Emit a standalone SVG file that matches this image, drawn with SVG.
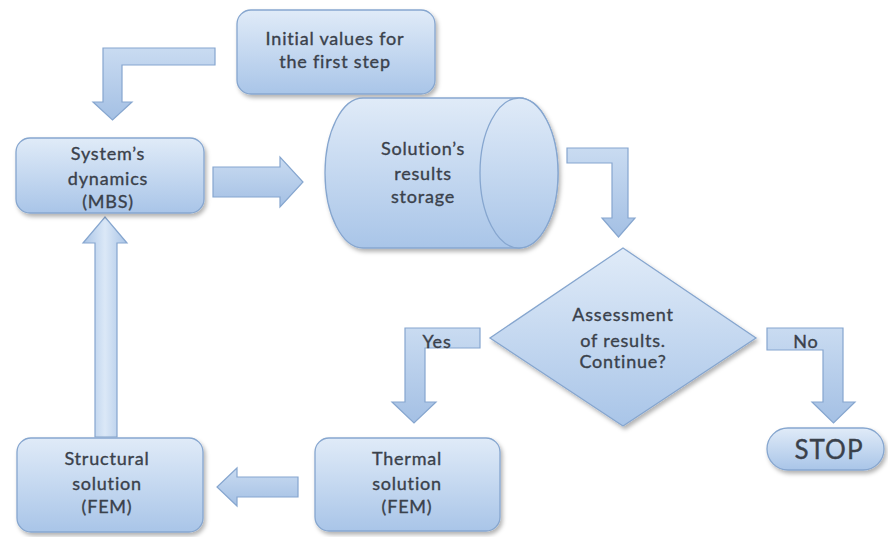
<svg xmlns="http://www.w3.org/2000/svg" width="888" height="537" viewBox="0 0 888 537">
<defs>
<linearGradient id="ng" x1="0" y1="0" x2="0" y2="1">
<stop offset="0" stop-color="#e0ebf8"/>
<stop offset="1" stop-color="#a9c5e8"/>
</linearGradient>
<linearGradient id="ag" x1="0" y1="0" x2="0" y2="1">
<stop offset="0" stop-color="#c9dbf1"/>
<stop offset="1" stop-color="#a4c0e4"/>
</linearGradient>
<linearGradient id="vg" x1="0" y1="0" x2="1" y2="0">
<stop offset="0" stop-color="#a9c4e6"/>
<stop offset="0.5" stop-color="#dbe8f7"/>
<stop offset="1" stop-color="#a9c4e6"/>
</linearGradient>
<filter id="sh" x="-10%" y="-10%" width="125%" height="130%">
<feDropShadow dx="2" dy="3" stdDeviation="2" flood-color="#000" flood-opacity="0.3"/>
</filter>
</defs>
<style>
.node{fill:url(#ng);stroke:#86a6cf;stroke-width:1.3;filter:url(#sh)}
.arr{fill:url(#ag);stroke:#86a6cf;stroke-width:1.2}
.varr{fill:url(#vg);stroke:#86a6cf;stroke-width:1.2}
text{font-family:Lato,"Open Sans","Liberation Sans",sans-serif;font-size:18px;letter-spacing:0.8px;fill:#3a414b;stroke:#3a414b;stroke-width:0.35px;text-anchor:middle}
.big{font-size:26px;letter-spacing:1px}
</style>
<rect width="888" height="537" fill="#ffffff"/>
<g id="connectors">
<polygon class="arr" points="215,48 103,48 103,102 93,102 112.5,120 132,102 122,102 122,65 215,65"/>
<polygon class="arr" points="213,167 280,167 280,157 303,182 280,207 280,197 213,197"/>
<polygon class="arr" points="567,148 628,148 628,218 635,218 618.5,237 602,218 612,218 612,163 567,163"/>
<polygon class="arr" points="480,328 405,328 405,402 392,402 414,423 436,402 425,402 425,348 480,348"/>
<polygon class="arr" points="767,328 843,328 843,402 855,402 833.5,423 812,402 823,402 823,350 767,350"/>
<polygon class="arr" points="298,477 237,477 237,468 217,487 237,506 237,497 298,497"/>
<polygon class="varr" points="95,437 95,243 83,243 105,217 127,243 117,243 117,437"/>
<text x="437" y="348">Yes</text>
<text x="806" y="348">No</text>
</g>
<g id="initial">
<rect class="node" x="237" y="10" width="198" height="84" rx="14"/>
<text x="335" y="45">Initial values for</text>
<text x="335" y="68">the first step</text>
</g>
<g id="mbs">
<rect class="node" x="16" y="138" width="188" height="75" rx="14"/>
<text x="108" y="160">System’s</text>
<text x="108" y="185">dynamics</text>
<text x="108" y="208">(MBS)</text>
</g>
<g id="storage">
<path class="node" d="M363,98 L519,98 A39,75 0 0 1 519,248 L363,248 A38,75 0 0 1 363,98 Z"/>
<ellipse cx="519" cy="173" rx="39" ry="75" fill="url(#ng)" stroke="#86a6cf" stroke-width="1.3"/>
<text x="423" y="155">Solution’s</text>
<text x="423" y="180">results</text>
<text x="423" y="203">storage</text>
</g>
<g id="assessment">
<polygon class="node" points="623,248 756,338 623,426 490,338"/>
<text x="623" y="321">Assessment</text>
<text x="623" y="347">of results.</text>
<text x="623" y="368">Continue?</text>
</g>
<g id="stop">
<rect class="node" x="767" y="428" width="117" height="42" rx="21"/>
<text class="big" x="829" y="459">STOP</text>
</g>
<g id="thermal">
<rect class="node" x="315" y="438" width="185" height="93" rx="14"/>
<text x="407" y="465">Thermal</text>
<text x="407" y="490">solution</text>
<text x="407" y="513">(FEM)</text>
</g>
<g id="structural">
<rect class="node" x="17" y="438" width="186" height="94" rx="14"/>
<text x="107" y="465">Structural</text>
<text x="107" y="490">solution</text>
<text x="107" y="513">(FEM)</text>
</g>
</svg>
